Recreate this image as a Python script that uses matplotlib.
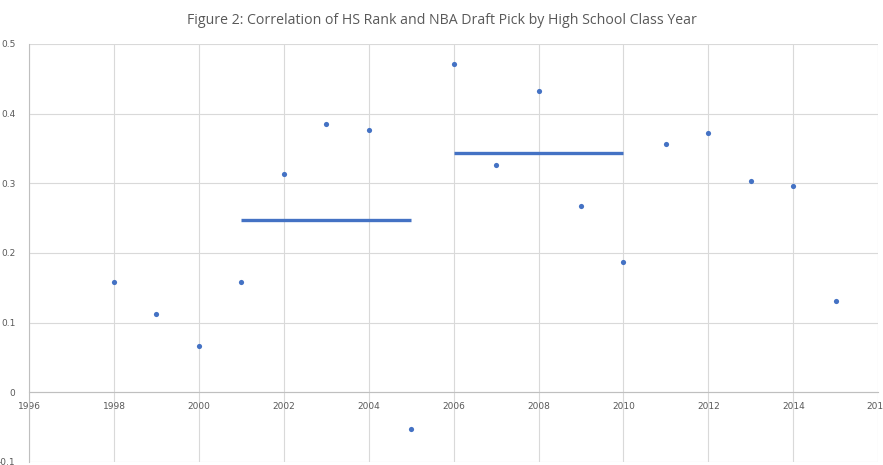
import matplotlib
matplotlib.use("Agg")
import matplotlib.pyplot as plt

# class year vs correlation
years = [1998, 1999, 2000, 2001, 2002, 2003, 2004, 2005, 2006,
         2007, 2008, 2009, 2010, 2011, 2012, 2013, 2014, 2015]
corr = [0.158, 0.112, 0.066, 0.159, 0.314, 0.385, 0.376, -0.053, 0.471,
        0.326, 0.433, 0.268, 0.187, 0.357, 0.372, 0.304, 0.296, 0.131]

# period averages (start, end, value)
avg_start = [2001, 2006]
avg_end = [2005, 2010]
avg_value = [0.247, 0.344]

x_ticks = [1996, 1998, 2000, 2002, 2004, 2006, 2008, 2010, 2012, 2014, 2016]
y_ticks = [-0.1, 0, 0.1, 0.2, 0.3, 0.4, 0.5]
y_labels = ["-0.1", "0", "0.1", "0.2", "0.3", "0.4", "0.5"]

blue = "#4472C4"
grid = "#d9d9d9"
txt = "#595959"

fig = plt.figure(figsize=(8.83, 4.65), dpi=100)
ax = fig.add_axes([0.033, 0.0065, 0.9615, 0.8989])

ax.scatter(years, corr, s=14, color=blue, zorder=3, linewidths=0)
for s, e, v in zip(avg_start, avg_end, avg_value):
    ax.plot([s, e], [v, v], color=blue, lw=2.4, zorder=3, solid_capstyle="butt")

ax.set_xlim(1996, 2016)
ax.set_ylim(-0.1, 0.5)
ax.set_xticks(x_ticks)
ax.set_xticklabels([str(t) for t in x_ticks])
ax.set_yticks(y_ticks)
ax.set_yticklabels(y_labels)
ax.grid(True, color=grid, lw=0.8)
ax.set_axisbelow(True)

ax.spines["bottom"].set_position(("data", 0))
ax.spines["bottom"].set_color("#bfbfbf")
ax.spines["left"].set_color("#bfbfbf")
ax.spines["top"].set_visible(False)
ax.spines["right"].set_visible(False)
ax.tick_params(length=0, labelsize=6.5, colors=txt, pad=7)
ax.tick_params(axis="y", pad=10)

fig.suptitle("Figure 2: Correlation of HS Rank and NBA Draft Pick by High School Class Year",
             x=0.5, y=0.972, fontsize=10.2, color=txt, family="Open Sans")

fig.savefig("out.png", dpi=100)
